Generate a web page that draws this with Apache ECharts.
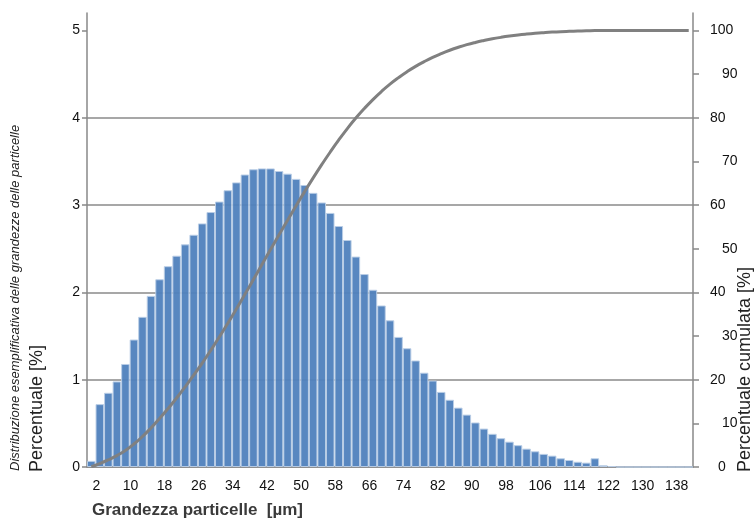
<!DOCTYPE html>
<html>
<head>
<meta charset="utf-8">
<script src="https://cdn.jsdelivr.net/npm/echarts@6/dist/echarts.min.js"></script>
<style>
html, body { margin: 0; padding: 0; background: #fff; }
#main { width: 755px; height: 519px; }
</style>
</head>
<body>
<div id="main"></div>
<script>
// grandezza particelle [µm], passo 2
var sizes = [0, 2, 4, 6, 8, 10, 12, 14, 16, 18, 20, 22, 24, 26, 28, 30, 32, 34, 36, 38,
  40, 42, 44, 46, 48, 50, 52, 54, 56, 58, 60, 62, 64, 66, 68, 70, 72, 74, 76, 78,
  80, 82, 84, 86, 88, 90, 92, 94, 96, 98, 100, 102, 104, 106, 108, 110, 112, 114, 116, 118,
  120, 122, 124, 126, 128, 130, 132, 134, 136, 138, 140];

// percentuale [%] (barre)
var percent = [0.07, 0.72, 0.85, 0.98, 1.18, 1.46, 1.72, 1.96, 2.15, 2.30,
  2.42, 2.55, 2.66, 2.79, 2.92, 3.04, 3.17, 3.26, 3.35, 3.41,
  3.42, 3.42, 3.39, 3.36, 3.30, 3.23, 3.14, 3.03, 2.91, 2.76,
  2.60, 2.41, 2.21, 2.03, 1.85, 1.68, 1.49, 1.36, 1.22, 1.08,
  0.99, 0.86, 0.77, 0.68, 0.60, 0.51, 0.44, 0.38, 0.33, 0.29,
  0.25, 0.21, 0.18, 0.15, 0.13, 0.10, 0.08, 0.06, 0.05, 0.10,
  0.02, 0.01, 0, 0, 0, 0, 0, 0, 0, 0, 0];

// percentuale cumulata [%] (linea)
var cumulative = [0.07, 0.79, 1.64, 2.62, 3.80, 5.26, 6.98, 8.94, 11.09, 13.39,
  15.81, 18.36, 21.02, 23.81, 26.73, 29.77, 32.94, 36.20, 39.55, 42.96,
  46.38, 49.80, 53.19, 56.55, 59.85, 63.08, 66.22, 69.25, 72.16, 74.92,
  77.52, 79.93, 82.14, 84.17, 86.02, 87.70, 89.19, 90.55, 91.77, 92.85,
  93.84, 94.70, 95.47, 96.15, 96.75, 97.26, 97.70, 98.09, 98.42, 98.71,
  98.96, 99.17, 99.35, 99.50, 99.63, 99.73, 99.80, 99.86, 99.91, 100,
  100, 100, 100, 100, 100, 100, 100, 100, 100, 100, 100];

var leftTicks = [0, 1, 2, 3, 4, 5];
var rightTicks = [0, 10, 20, 30, 40, 50, 60, 70, 80, 90, 100];

var myChart = echarts.init(document.getElementById("main"));

var axisGray = "#888888";
var font = "Liberation Sans";

var option = {
  animation: false,
  backgroundColor: "#ffffff",
  grid: { left: 87, right: 62, top: 13, bottom: 52 },
  xAxis: {
    type: "category",
    data: sizes,
    boundaryGap: true,
    axisLine: { lineStyle: { color: axisGray, width: 1.5 } },
    axisTick: { show: false },
    axisLabel: {
      interval: function (i) { return i % 4 === 1; },
      margin: 12,
      padding: [0, 7, 0, 0],
      color: "#111",
      fontSize: 14,
      fontFamily: font
    },
    splitLine: { show: false }
  },
  yAxis: [
    {
      type: "value",
      min: 0,
      max: 5.2,
      interval: 1,
      position: "left",
      axisLine: { show: true, lineStyle: { color: axisGray, width: 1.5 } },
      axisTick: { show: true, length: 5, customValues: leftTicks, lineStyle: { color: axisGray, width: 1.5 } },
      axisLabel: { customValues: leftTicks, margin: 7, color: "#111", fontSize: 14, fontFamily: font },
      splitLine: { show: true, showMaxLine: false, lineStyle: { color: "#8a8a8a", width: 1.6 } }
    },
    {
      type: "value",
      min: 0,
      max: 104,
      interval: 10,
      position: "right",
      axisLine: { show: true, lineStyle: { color: axisGray, width: 1.5 } },
      axisTick: { show: true, length: 6, customValues: rightTicks, lineStyle: { color: axisGray, width: 1.5 } },
      axisLabel: {
        customValues: rightTicks,
        margin: 17,
        align: "left",
        color: "#111",
        fontSize: 14,
        fontFamily: font,
        // etichette dispari spostate a destra come nell'originale
        formatter: function (v) {
          if (v === 0) return "{z|0}";
          return (v / 10) % 2 ? "{o|" + v + "}" : "{e|" + v + "}";
        },
        rich: {
          e: { fontSize: 14, fontFamily: font, color: "#111" },
          o: { fontSize: 14, fontFamily: font, color: "#111", padding: [0, 0, 0, 12] },
          z: { fontSize: 14, fontFamily: font, color: "#111", padding: [0, 0, 0, 8] }
        }
      },
      splitLine: { show: false }
    }
  ],
  series: [
    {
      name: "Percentuale",
      type: "bar",
      yAxisIndex: 0,
      barCategoryGap: "0%",
      itemStyle: { color: "#4f81bd", borderColor: "#b9cde6", borderWidth: 1, opacity: 0.95 },
      data: percent
    },
    {
      name: "Percentuale cumulata",
      type: "line",
      yAxisIndex: 1,
      smooth: true,
      showSymbol: false,
      lineStyle: { color: "#808080", width: 3 },
      data: cumulative,
      z: 5
    }
  ],
  graphic: [
    {
      type: "text",
      x: 15, y: 471,
      rotation: Math.PI / 2,
      style: {
        text: "Distribuzione esemplificativa delle grandezze delle particelle",
        font: "italic 13px 'Liberation Sans'",
        fill: "#222",
        align: "left",
        verticalAlign: "middle"
      }
    },
    {
      type: "text",
      x: 37, y: 472,
      rotation: Math.PI / 2,
      style: {
        text: "Percentuale [%]",
        font: "18px 'Liberation Sans'",
        fill: "#222",
        align: "left",
        verticalAlign: "middle"
      }
    },
    {
      type: "text",
      x: 745, y: 472,
      rotation: Math.PI / 2,
      style: {
        text: "Percentuale cumulata [%]",
        font: "18px 'Liberation Sans'",
        fill: "#222",
        align: "left",
        verticalAlign: "middle"
      }
    },
    {
      type: "text",
      x: 92, y: 510,
      style: {
        text: "Grandezza particelle  [µm]",
        font: "bold 17px 'Liberation Sans'",
        fill: "#3a3a3a",
        align: "left",
        verticalAlign: "middle"
      }
    }
  ]
};

myChart.setOption(option);
</script>
</body>
</html>
